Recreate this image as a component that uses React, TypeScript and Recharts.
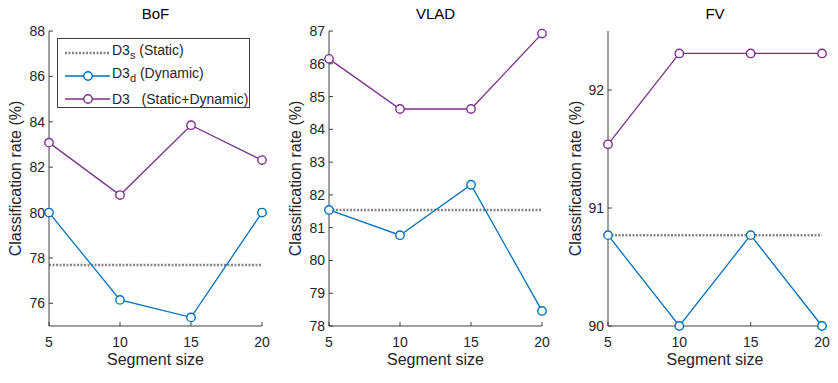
import React from 'react';
import { Legend, Line, LineChart, ReferenceLine, XAxis, YAxis } from 'recharts';

const segments = [5, 10, 15, 20];

const bofDynamic = [80, 76.15, 75.38, 80];
const bofCombined = [83.08, 80.77, 83.85, 82.31];
const bofStatic = 77.69;

const vladDynamic = [81.54, 80.77, 82.31, 78.46];
const vladCombined = [86.15, 84.62, 84.62, 86.92];
const vladStatic = 81.54;

const fvDynamic = [90.77, 90, 90.77, 90];
const fvCombined = [91.54, 92.31, 92.31, 92.31];
const fvStatic = 90.77;

const bofTicks = [76, 78, 80, 82, 84, 86, 88];
const vladTicks = [78, 79, 80, 81, 82, 83, 84, 85, 86, 87];
const fvTicks = [90, 91, 92];

const BLUE = '#0072BD';
const PURPLE = '#7E2F8E';
const GRAY = '#858585';
const AXIS = '#404040';
const FONT = '"Liberation Sans", Arial, Helvetica, sans-serif';

const toRows = (dynamic: number[], combined: number[]) =>
  segments.map((seg, i) => ({ seg, dynamic: dynamic[i], combined: combined[i] }));

const LegendBox = () => {
  const rows = [
    { color: GRAY, dotted: true, label: <>D3<sub style={{ fontSize: 11 }}>s</sub> (Static)</> },
    { color: BLUE, dotted: false, label: <>D3<sub style={{ fontSize: 11 }}>d</sub> (Dynamic)</> },
    { color: PURPLE, dotted: false, label: <>D3&nbsp;&nbsp;&nbsp;(Static+Dynamic)</> },
  ];
  return (
    <div
      style={{
        width: 193,
        height: 70,
        border: `1px solid ${AXIS}`,
        background: '#fff',
        fontFamily: FONT,
        fontSize: 14,
        fontWeight: 400,
        color: '#262626',
        boxSizing: 'border-box',
        paddingTop: 2,
      }}
    >
      {rows.map((r, i) => (
        <div key={i} style={{ display: 'flex', alignItems: 'center', height: 23 }}>
          <svg width={54} height={16} style={{ flex: 'none' }}>
            <line
              x1={7}
              x2={52}
              y1={8}
              y2={8}
              stroke={r.color}
              strokeWidth={r.dotted ? 2.5 : 1.3}
              strokeDasharray={r.dotted ? '2 1.5' : undefined}
            />
            {!r.dotted && <circle cx={30} cy={8} r={4.2} fill="#fff" stroke={r.color} strokeWidth={1.4} />}
          </svg>
          <span style={{ lineHeight: '14px', whiteSpace: 'nowrap' }}>{r.label}</span>
        </div>
      ))}
    </div>
  );
};

interface PanelProps {
  title: string;
  dynamic: number[];
  combined: number[];
  staticValue: number;
  domain: [number, number];
  ticks: number[];
  left: number;
  width: number;
  yWidth: number;
  rightMargin: number;
  showLegend?: boolean;
}

const Panel = ({ title, dynamic, combined, staticValue, domain, ticks, left, width, yWidth, rightMargin, showLegend }: PanelProps) => {
  const data = toRows(dynamic, combined);
  const tickStyle = { fontSize: 14, fill: '#262626', fontFamily: FONT };
  const plotLeft = yWidth;
  const plotWidth = width - yWidth - rightMargin;
  return (
    <div style={{ position: 'absolute', left, top: 0, width, height: 383 }}>
      <div
        style={{
          position: 'absolute',
          left: plotLeft,
          width: plotWidth,
          top: 5,
          textAlign: 'center',
          fontFamily: FONT,
          fontSize: 15,
          fontWeight: 400,
          color: '#000',
        }}
      >
        {title}
      </div>
      <LineChart width={width} height={383} data={data} margin={{ top: 31, right: rightMargin, left: 0, bottom: 17 }}>
        <XAxis
          dataKey="seg"
          type="number"
          domain={[5, 20]}
          ticks={segments}
          height={40}
          tickSize={-4}
          tickMargin={15}
          tick={tickStyle}
          axisLine={{ stroke: AXIS }}
          tickLine={{ stroke: AXIS }}
          label={{ value: 'Segment size', position: 'insideBottom', offset: 1, style: { fontSize: 16, fill: '#262626', fontFamily: FONT } }}
        />
        <XAxis
          xAxisId="top"
          orientation="top"
          dataKey="seg"
          type="number"
          domain={[5, 20]}
          ticks={segments}
          allowDataOverflow
          height={0}
          tickSize={-4}
          tick={false}
          axisLine={{ stroke: AXIS }}
          tickLine={{ stroke: AXIS }}
        />
        <YAxis
          type="number"
          domain={domain}
          ticks={ticks}
          width={yWidth}
          tickSize={-4}
          tickMargin={8}
          tick={tickStyle}
          axisLine={{ stroke: AXIS }}
          tickLine={{ stroke: AXIS }}
          label={{
            value: 'Classification rate (%)',
            angle: -90,
            position: 'insideLeft',
            offset: 15,
            style: { textAnchor: 'middle', fontSize: 16, fill: '#262626', fontFamily: FONT },
          }}
        />
        <YAxis
          yAxisId="right"
          orientation="right"
          type="number"
          domain={domain}
          ticks={ticks}
          allowDataOverflow
          width={0}
          tickSize={-4}
          tick={false}
          axisLine={{ stroke: AXIS }}
          tickLine={{ stroke: AXIS }}
        />
        <ReferenceLine y={staticValue} stroke={GRAY} strokeWidth={2.5} strokeDasharray="2 1.5" />
        {/* invisible copy so the top/right frame axes get drawn */}
        <Line
          xAxisId="top"
          yAxisId="right"
          type="linear"
          dataKey="combined"
          stroke="none"
          dot={false}
          activeDot={false}
          legendType="none"
          isAnimationActive={false}
        />
        <Line
          type="linear"
          dataKey="dynamic"
          stroke={BLUE}
          strokeWidth={1.3}
          dot={{ r: 4.2, fill: '#fff', stroke: BLUE, strokeWidth: 1.4, clipDot: false }}
          activeDot={false}
          isAnimationActive={false}
        />
        <Line
          type="linear"
          dataKey="combined"
          stroke={PURPLE}
          strokeWidth={1.3}
          dot={{ r: 4.2, fill: '#fff', stroke: PURPLE, strokeWidth: 1.4, clipDot: false }}
          activeDot={false}
          isAnimationActive={false}
        />
        {showLegend && (
          <Legend
            layout="vertical"
            align="center"
            verticalAlign="middle"
            content={<LegendBox />}
            wrapperStyle={{ left: 57, top: 38, width: 193, height: 70 }}
          />
        )}
      </LineChart>
    </div>
  );
};

export default function App() {
  return (
    <div style={{ position: 'absolute', left: 0, top: 0, width: 838, height: 383, background: '#fff' }}>
      <Panel title="BoF" dynamic={bofDynamic} combined={bofCombined} staticValue={bofStatic} domain={[75, 88]} ticks={bofTicks} left={0} width={280} yWidth={49} rightMargin={18} showLegend />
      <Panel title="VLAD" dynamic={vladDynamic} combined={vladCombined} staticValue={vladStatic} domain={[78, 87]} ticks={vladTicks} left={280} width={280} yWidth={49} rightMargin={18} />
      <Panel title="FV" dynamic={fvDynamic} combined={fvCombined} staticValue={fvStatic} domain={[90, 92.5]} ticks={fvTicks} left={560} width={278} yWidth={48} rightMargin={16} />
    </div>
  );
}
